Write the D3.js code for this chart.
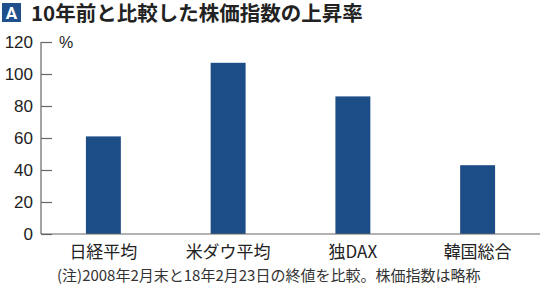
<!DOCTYPE html>
<html>
<head>
<meta charset="utf-8">
<script src="https://cdn.jsdelivr.net/npm/d3@7"></script>
<style>
  body { margin: 0; background: #fff; }
  svg { display: block; font-family: "Noto Sans CJK JP", "Noto Sans", sans-serif; }
</style>
</head>
<body>
<svg id="chart" width="550" height="306"></svg>
<script>
// data
var categories = ['日経平均', '米ダウ平均', '独DAX', '韓国総合'];
var values = [61, 107, 86, 43];
var yTicks = [0, 20, 40, 60, 80, 100, 120];

var titleText = '10年前と比較した株価指数の上昇率';
var noteText = '(注)2008年2月末と18年2月23日の終値を比較。株価指数は略称';

var svg = d3.select('#chart');
var plotLeft = 41, plotRight = 540, plotTop = 42, plotBottom = 234;
var barColor = '#1c4d87';

var x = d3.scaleBand().domain(categories).range([plotLeft, plotRight]).padding(0);
var y = d3.scaleLinear().domain([0, 120]).range([plotBottom, plotTop]);
var barW = x.bandwidth() * 0.28;

// title
svg.append('rect')
  .attr('x', 2).attr('y', 3).attr('width', 19).attr('height', 19)
  .attr('fill', '#1f4f8c');
svg.append('text')
  .attr('x', 11.5).attr('y', 19)
  .attr('text-anchor', 'middle')
  .attr('fill', '#fff')
  .style('font-family', 'Roboto, "Liberation Sans", sans-serif')
  .style('font-size', '17px')
  .style('font-weight', 'bold')
  .text('A');
svg.append('text')
  .attr('x', 31).attr('y', 21)
  .attr('fill', '#222')
  .style('font-size', '20.5px')
  .style('font-weight', 'bold')
  .text(titleText);

// bars
svg.selectAll('.bar')
  .data(values)
  .enter().append('rect')
  .attr('class', 'bar')
  .attr('x', function (d, i) { return x(categories[i]) + x.bandwidth() / 2 - barW / 2; })
  .attr('y', function (d) { return y(d); })
  .attr('width', barW)
  .attr('height', function (d) { return y(0) - y(d); })
  .attr('fill', barColor);

// y axis
var yAxis = d3.axisRight(y).tickValues(yTicks).tickSize(11).tickFormat('');
var ga = svg.append('g').attr('transform', 'translate(' + plotLeft + ',0)').call(yAxis);
ga.select('.domain').remove();
ga.selectAll('.tick line').attr('stroke', '#666').attr('stroke-width', 1.2);
svg.append('line')
  .attr('x1', plotLeft).attr('x2', plotLeft)
  .attr('y1', y(120)).attr('y2', y(0))
  .attr('stroke', '#666').attr('stroke-width', 1.2);

svg.selectAll('.ylab')
  .data(yTicks)
  .enter().append('text')
  .attr('class', 'ylab')
  .attr('x', 33)
  .attr('y', function (d) { return y(d) + 6; })
  .attr('text-anchor', 'end')
  .attr('fill', '#222')
  .style('font-family', '"Liberation Sans Narrow", "Liberation Sans", sans-serif')
  .style('font-size', '17px')
  .text(function (d) { return d; });

svg.append('text')
  .attr('x', 59).attr('y', y(120) + 6)
  .attr('fill', '#222')
  .style('font-family', '"Liberation Sans Narrow", "Liberation Sans", sans-serif')
  .style('font-size', '16px')
  .text('%');

// baseline
svg.append('line')
  .attr('x1', plotLeft).attr('x2', plotRight)
  .attr('y1', y(0)).attr('y2', y(0))
  .attr('stroke', '#666').attr('stroke-width', 1.2);

// category labels
svg.selectAll('.xlab')
  .data(categories)
  .enter().append('text')
  .attr('class', 'xlab')
  .attr('x', function (d) { return x(d) + x.bandwidth() / 2; })
  .attr('y', 258)
  .attr('text-anchor', 'middle')
  .attr('fill', '#222')
  .style('font-size', '17px')
  .text(function (d) { return d; });

// note
svg.append('text')
  .attr('x', 57).attr('y', 281)
  .attr('fill', '#333')
  .style('font-size', '15px')
  .text(noteText);
</script>
</body>
</html>
